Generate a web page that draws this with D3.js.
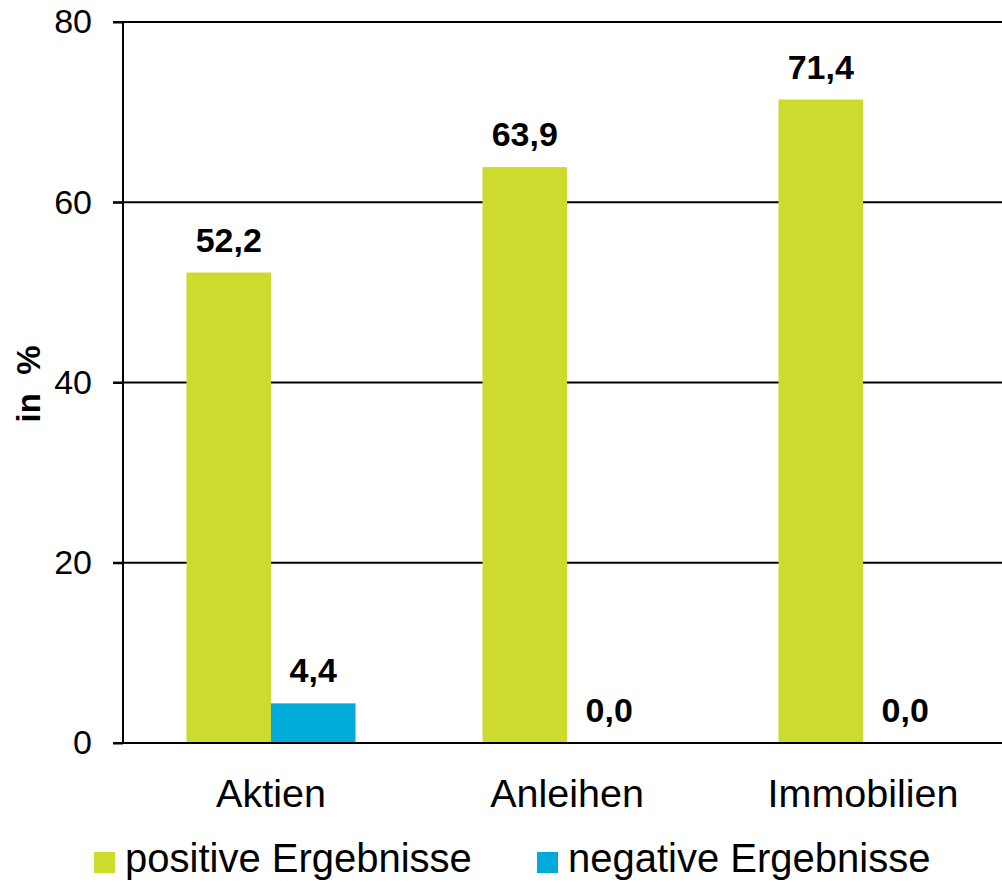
<!DOCTYPE html>
<html><head><meta charset="utf-8">
<script src="https://cdn.jsdelivr.net/npm/d3@7"></script>
<style>body{margin:0;background:#fff}svg{display:block;font-family:Arial,"Liberation Sans",sans-serif}</style>
</head><body>
<svg id="c" width="1002" height="883"></svg>
<script>
const categories = ["Aktien", "Anleihen", "Immobilien"];
const positive = [52.2, 63.9, 71.4];
const negative = [4.4, 0.0, 0.0];
const seriesNames = ["positive Ergebnisse", "negative Ergebnisse"];
const yTicks = [0, 20, 40, 60, 80];
const colors = ["#CCDB2E", "#00AAD9"];

const svg = d3.select("#c");
const x0 = 123, x1 = 1011, yTop = 22, yBot = 743;
const x = d3.scaleBand().domain(categories).range([x0, x1]).paddingInner(0).paddingOuter(0);
const y = d3.scaleLinear().domain([0, 80]).range([yBot, yTop]);
const barW = 84.5;
const inner = d3.scaleBand().domain([0, 1]).range([0, barW * 2]);

// gridlines
svg.append("g").selectAll("line").data(yTicks).join("line")
  .attr("x1", x0 - 10).attr("x2", 1002)
  .attr("y1", d => y(d)).attr("y2", d => y(d))
  .attr("stroke", "#000").attr("stroke-width", 2);

// y axis
const yAxis = d3.axisLeft(y).tickValues(yTicks).tickSize(10).tickPadding(21).tickFormat(d3.format("d"));
const ga = svg.append("g").attr("transform", `translate(${x0},0)`).call(yAxis);
ga.select(".domain").attr("stroke", "#000").attr("stroke-width", 2).attr("d", `M0,${yTop}V${yBot}`);
ga.selectAll(".tick line").attr("stroke", "#000").attr("stroke-width", 2);
ga.selectAll(".tick text").attr("font-size", 34).attr("fill", "#000").attr("font-family", "Arial, 'Liberation Sans', sans-serif");

// bars
const data = categories.map((c, i) => ({c, vals: [positive[i], negative[i]]}));
const groups = svg.append("g").selectAll("g").data(data).join("g")
  .attr("transform", d => `translate(${x(d.c) + (x.bandwidth() - barW * 2) / 2},0)`);
groups.selectAll("rect").data(d => d.vals).join("rect")
  .attr("x", (v, i) => inner(i)).attr("width", barW)
  .attr("y", v => y(v)).attr("height", v => y(0) - y(v))
  .attr("fill", (v, i) => colors[i]);
groups.selectAll("text").data(d => d.vals).join("text")
  .attr("x", (v, i) => inner(i) + barW / 2)
  .attr("y", v => y(v) - 21)
  .attr("text-anchor", "middle").attr("font-weight", "bold").attr("font-size", 34)
  .text(v => v.toFixed(1).replace(".", ","));

// redraw baseline above bars
svg.append("line").attr("x1", x0).attr("x2", 1002).attr("y1", y(0)).attr("y2", y(0)).attr("stroke", "#000").attr("stroke-width", 2);

// x labels
svg.append("g").selectAll("text").data(categories).join("text")
  .attr("x", d => x(d) + x.bandwidth() / 2).attr("y", 807)
  .attr("text-anchor", "middle").attr("font-size", 39.5).text(d => d);

// y title
svg.append("text").attr("transform", "translate(40,384) rotate(-90)")
  .attr("text-anchor", "middle").attr("font-weight", "bold").attr("font-size", 33)
  .attr("xml:space", "preserve").style("white-space", "pre").text("in  %");

// legend
const legX = [94, 537];
const lg = svg.append("g").selectAll("g").data(seriesNames).join("g")
  .attr("transform", (d, i) => `translate(${legX[i]},0)`);
lg.append("rect").attr("x", 0).attr("y", 852).attr("width", 21).attr("height", 21).attr("fill", (d, i) => colors[i]);
lg.append("text").attr("x", 31).attr("y", 872).attr("font-size", 40).text(d => d);
</script>
</body></html>
